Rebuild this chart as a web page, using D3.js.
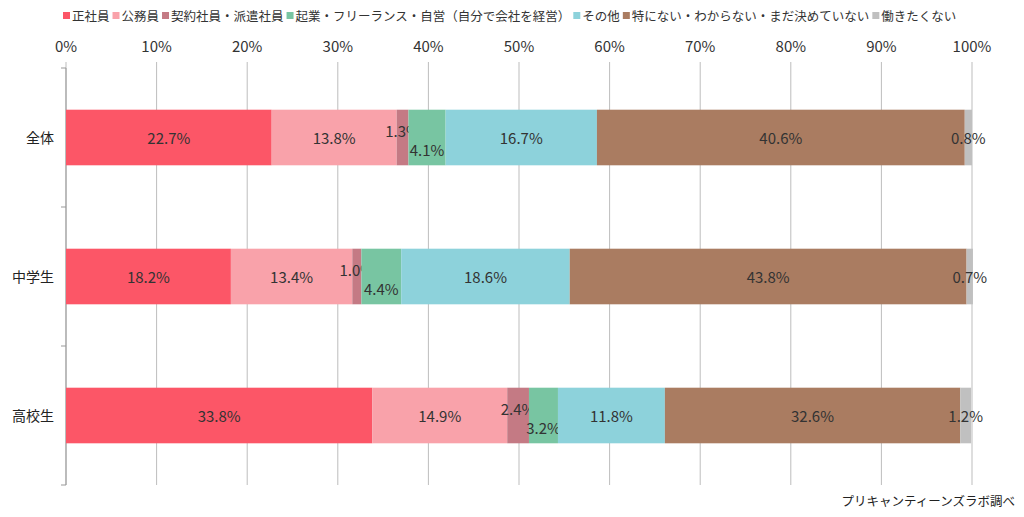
<!DOCTYPE html>
<html><head><meta charset="utf-8">
<script src="https://cdn.jsdelivr.net/npm/d3@7"></script>
<style>body{margin:0;background:#fff}text{font-family:"Noto Sans CJK JP","DejaVu Sans",sans-serif}</style>
</head><body><svg id="chart" width="1024" height="517"></svg>
<script>
const categories = ['全体', '中学生', '高校生'];
const seriesNames = ['正社員', '公務員', '契約社員・派遣社員', '起業・フリーランス・自営（自分で会社を経営）', 'その他', '特にない・わからない・まだ決めていない', '働きたくない'];
const colors = ['#fc5667', '#f9a2aa', '#c47a84', '#78c5a2', '#8dd2db', '#aa7c61', '#c0c0c0'];
const values = [
  [22.7, 13.8, 1.3, 4.1, 16.7, 40.6, 0.8],
  [18.2, 13.4, 1.0, 4.4, 18.6, 43.8, 0.7],
  [33.8, 14.9, 2.4, 3.2, 11.8, 32.6, 1.2]
];
const ticks = d3.range(0, 101, 10);
const labelShift = [0, 0, -7, 12, 0, 0, 0];

const svg = d3.select('#chart');
const x = d3.scaleLinear().domain([0, 100]).range([66, 972]);
const y = d3.scaleBand().domain(categories).range([68, 485]).paddingInner(0.6).paddingOuter(0.3);

// gridlines
svg.append('g').selectAll('line').data(ticks).join('line')
  .attr('x1', d => x(d)).attr('x2', d => x(d)).attr('y1', 62).attr('y2', 485)
  .attr('stroke', '#bdbdbd').attr('stroke-width', 1);

// top axis labels
svg.append('g').selectAll('text').data(ticks).join('text')
  .attr('x', d => x(d)).attr('y', 52).attr('text-anchor', 'middle')
  .attr('font-size', 15).attr('fill', '#333').text(d => d + '%');

// left axis with category ticks
const bounds = [68, ...categories.map((c, i) => 68 + (485 - 68) / 3 * (i + 1))];
svg.append('line').attr('x1', 66).attr('x2', 66).attr('y1', 68).attr('y2', 485).attr('stroke', '#999');
svg.append('g').selectAll('line').data(bounds).join('line')
  .attr('x1', 61).attr('x2', 66).attr('y1', d => d).attr('y2', d => d).attr('stroke', '#999');

svg.append('g').selectAll('text').data(categories).join('text')
  .attr('x', 54).attr('y', d => y(d) + y.bandwidth() / 2 + 5).attr('text-anchor', 'end')
  .attr('font-size', 14).attr('fill', '#222').text(d => d);

// bars
values.forEach((row, ci) => {
  let acc = 0;
  const g = svg.append('g');
  row.forEach((v, si) => {
    const x0 = acc; acc += v;
    const yc = y(categories[ci]);
    g.append('rect').attr('x', x(x0)).attr('y', yc).attr('width', x(acc) - x(x0))
      .attr('height', y.bandwidth()).attr('fill', colors[si]);
    g.append('text').attr('x', (x(x0) + x(acc)) / 2)
      .attr('y', yc + y.bandwidth() / 2 + 6 + labelShift[si])
      .attr('text-anchor', 'middle').attr('font-size', 15).attr('fill', '#333')
      .attr('font-family', 'DejaVu Sans').text(v.toFixed(1) + '%');
  });
});

// legend
const legend = svg.append('g').attr('font-size', 12.5);
let lx = 63;
seriesNames.forEach((n, i) => {
  legend.append('rect').attr('x', lx).attr('y', 12).attr('width', 7).attr('height', 7).attr('fill', colors[i]);
  const t = legend.append('text').attr('x', lx + 9).attr('y', 21).attr('fill', '#333').text(n);
  lx += 9 + t.node().getComputedTextLength() + 3;
});

svg.append('text').attr('x', 1015).attr('y', 506).attr('text-anchor', 'end')
  .attr('font-size', 12.5).attr('fill', '#222').text('プリキャンティーンズラボ調べ');
</script></body></html>
